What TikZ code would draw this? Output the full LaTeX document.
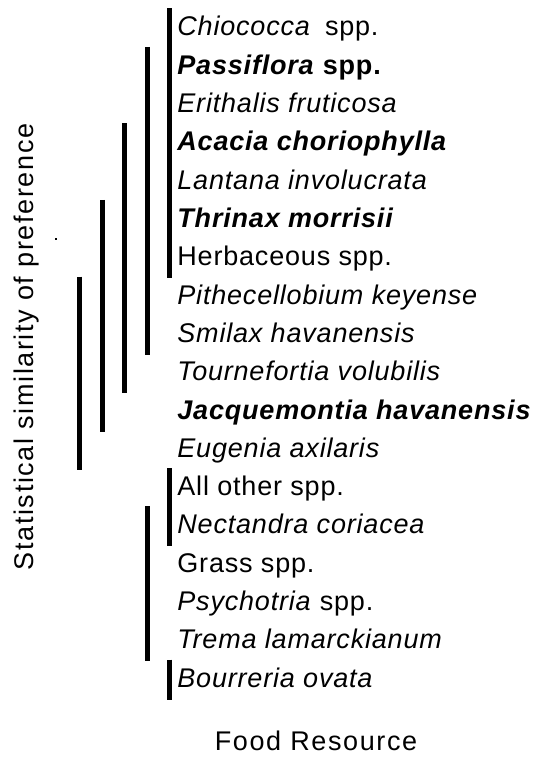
\documentclass[tikz,border=0pt]{standalone}
\usepackage{fontspec}
\setmainfont{Liberation Sans}[LetterSpace=3]
\newfontfamily\axisfont{Liberation Sans}[LetterSpace=6]
\usetikzlibrary{positioning}

\tikzset{
  spname/.style={anchor=base west,inner sep=0pt,font=\fontsize{13.5}{16}\selectfont},
  axisname/.style={inner sep=0pt,font=\axisfont\fontsize{13.5}{16}\selectfont},
  grpbar/.style={line width=2.4pt}
}

\begin{document}
\begin{tikzpicture}[x=0.5pt,y=-0.5pt]
  \useasboundingbox (0,0) rectangle (539,758);
  \foreach \i/\t in {
      0/{\textit{Chiococca}\hspace{3pt} spp.},
      1/{\bfseries\textit{Passiflora} spp.},
      2/{\textit{Erithalis fruticosa}},
      3/{\bfseries\itshape Acacia choriophylla},
      4/{\textit{Lantana involucrata}},
      5/{\bfseries\itshape Thrinax morrisii},
      6/{Herbaceous spp.},
      7/{\textit{Pithecellobium keyense}},
      8/{\textit{Smilax havanensis}},
      9/{\textit{Tournefortia volubilis}},
      10/{\bfseries\itshape Jacquemontia havanensis},
      11/{\textit{Eugenia axilaris}},
      12/{All other spp.},
      13/{\textit{Nectandra coriacea}},
      14/{Grass spp.},
      15/{\textit{Psychotria} spp.},
      16/{\textit{Trema lamarckianum}},
      17/{\textit{Bourreria ovata}}}
    \node[spname] (r\i) at (177,{36+38.3*\i}) {\t};
  \foreach \x/\a/\b in {169.5/0/6, 147.5/1/8, 124.5/3/9, 102.5/5/10,
      79.5/7/11, 169.5/12/13, 147.5/13/16, 169.5/17/17}
    \draw[grpbar] (\x,{36+38.3*\a-27.5}) -- (\x,{36+38.3*\b+12.5});
  \fill (54.8,237.8) rectangle (57.3,240.3);
  \node[axisname,rotate=90,anchor=base] (simlabel) at (33,347) {Statistical similarity of preference};
  \node[axisname,anchor=base] (foodlabel) at (316,750.7) {Food Resource};
\end{tikzpicture}
\end{document}
